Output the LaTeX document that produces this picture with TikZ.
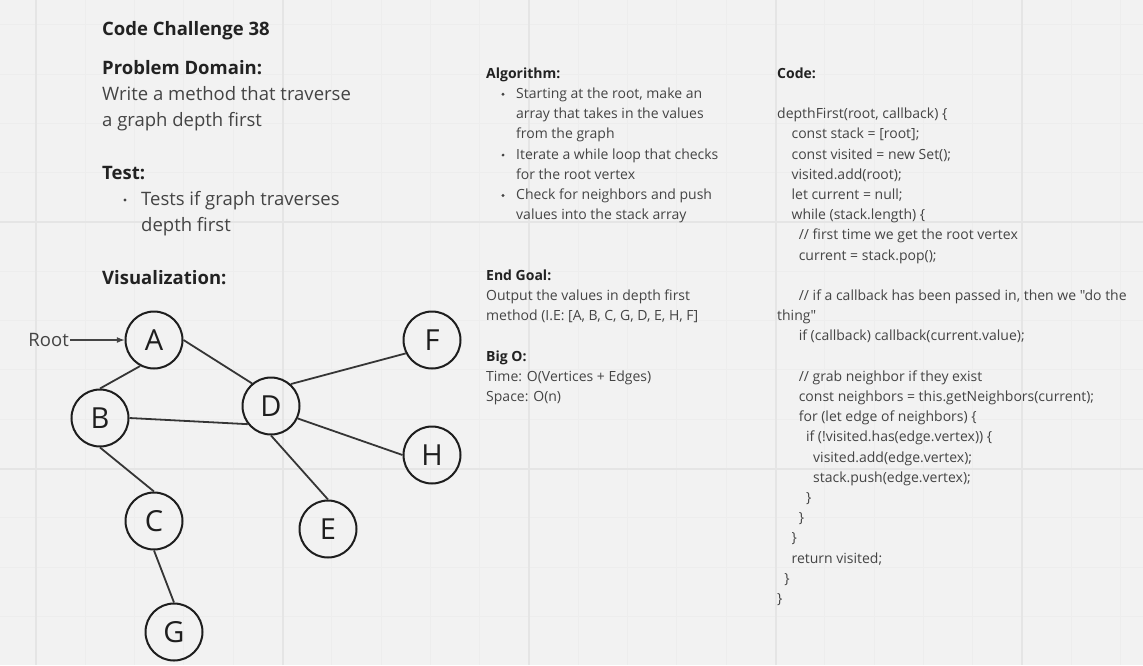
\documentclass[tikz,border=0pt]{standalone}
\usepackage{fontspec}
\setmainfont{Open Sans}[Ligatures=TeXOff]
\definecolor{bgc}{HTML}{F2F2F2}
\definecolor{gridminor}{HTML}{EDEDED}
\definecolor{gridmajor}{HTML}{E5E5E5}
\definecolor{headc}{HTML}{222222}
\definecolor{textc}{HTML}{444444}
\definecolor{linec}{HTML}{1E1E1E}
\begin{document}
\begin{tikzpicture}[x=1pt,y=-1pt,>=latex,
    vertex/.style={draw=linec,line width=2pt,circle,minimum size=57pt,inner sep=0pt,text=linec,font=\fontsize{29}{35}\selectfont},
    edge/.style={draw=linec!90,line width=1.8pt},
    head/.style={anchor=base west,inner sep=0pt,text=headc,font=\bfseries\fontsize{18.5}{22}\selectfont},
    big/.style={anchor=base west,inner sep=0pt,text=textc,font=\fontsize{18.5}{22}\selectfont},
    small/.style={anchor=base west,inner sep=0pt,text=textc,font=\fontsize{14}{17}\selectfont},
    smallhead/.style={anchor=base west,inner sep=0pt,text=headc,font=\bfseries\fontsize{14}{17}\selectfont},
    dot/.style={circle,fill=textc,inner sep=0pt,minimum size=3.2pt}]
    % Sfondo e griglia
    \fill[bgc] (0,0) rectangle (1143,665);
    \useasboundingbox (0,0) rectangle (1143,665);
    \begin{scope}[shift={(36,222)}]
        \draw[gridminor,line width=1pt,step=49.3pt] (-36,-222) grid (1107,443);
        \draw[gridmajor,line width=2pt,step=246.5pt] (-36,-222) grid (1107,443);
    \end{scope}
    % Colonna sinistra
    \node[head] (title) at (102,35) {Code Challenge 38};
    \node[head] (domain) at (102,74) {Problem Domain:};
    \node[big] (dom1) at (102,100) {Write a method that traverse};
    \node[big] (dom2) at (102,126.7) {a graph depth first};
    \node[head] (test) at (102,179) {Test:};
    \node[dot] (tdot) at (125,200) {};
    \node[big] (test1) at (141,205) {Tests if graph traverses};
    \node[big] (test2) at (141,231.7) {depth first};
    \node[head] (vis) at (102,284) {Visualization:};
    % Grafo
    \node[vertex] (A) at (154,340) {A};
    \node[vertex] (B) at (100,418) {B};
    \node[vertex] (C) at (154,521) {C};
    \node[vertex] (G) at (174,632) {G};
    \node[vertex] (D) at (271,406) {D};
    \node[vertex] (E) at (328,529) {E};
    \node[vertex] (F) at (432,340) {F};
    \node[vertex] (H) at (432,455) {H};
    \draw[edge] (A.242) -- (B.north);
    \draw[edge] (A.east) -- (D.130);
    \draw[edge] (B.east) -- (D.218);
    \draw[edge] (B.south) -- (C.north);
    \draw[edge] (C.south) -- (G.north);
    \draw[edge] (D.48) -- (F.207);
    \draw[edge] (D.-25) -- (H.west);
    \draw[edge] (D.south) -- (E.north);
    \node[big,anchor=east] (root) at (69,340) {Root};
    \draw[->,draw=textc,line width=1.6pt,shorten <=1pt] (root) -- (A);
    % Colonna centrale
    \node[smallhead] (alg) at (486,78.3) {Algorithm:};
    \node[dot] (adot1) at (503,94.3) {};
    \node[small] (alg1) at (516,98.5) {Starting at the root, make an};
    \node[small] (alg2) at (516,118.7) {array that takes in the values};
    \node[small] (alg3) at (516,138.9) {from the graph};
    \node[dot] (adot2) at (503,155.1) {};
    \node[small] (alg4) at (516,159.1) {Iterate a while loop that checks};
    \node[small] (alg5) at (516,179.3) {for the root vertex};
    \node[dot] (adot3) at (503,195.5) {};
    \node[small] (alg6) at (516,199.5) {Check for neighbors and push};
    \node[small] (alg7) at (516,219.7) {values into the stack array};
    \node[smallhead] (goal) at (486,280.3) {End Goal:};
    \node[small] (goal1) at (486,300.5) {Output the values in depth first};
    \node[small] (goal2) at (486,320.7) {method (I.E: [A, B, C, G, D, E, H, F]};
    \node[smallhead] (bigo) at (486,361.1) {Big O:};
    \node[small] (bigo1) at (486,381.3) {Time: O(Vertices + Edges)};
    \node[small] (bigo2) at (486,401.5) {Space: O(n)};
    % Codice
    \node[smallhead] (code) at (777,78.3) {Code:};
    \node[small] (c1) at (777,118.7) {depthFirst(root, callback) \{};
    \node[small] (c2) at (791.4,138.9) {const stack = [root];};
    \node[small] (c3) at (791.4,159.1) {const visited = new Set();};
    \node[small] (c4) at (791.4,179.3) {visited.add(root);};
    \node[small] (c5) at (791.4,199.5) {let current = null;};
    \node[small] (c6) at (791.4,219.7) {while (stack.length) \{};
    \node[small] (c7) at (798.6,239.9) {// first time we get the root vertex};
    \node[small] (c8) at (798.6,260.1) {current = stack.pop();};
    \node[small] (c9) at (798.6,300.5) {// if a callback has been passed in, then we "do the};
    \node[small] (c10) at (777,320.7) {thing"};
    \node[small] (c11) at (798.6,340.9) {if (callback) callback(current.value);};
    \node[small] (c12) at (798.6,381.3) {// grab neighbor if they exist};
    \node[small] (c13) at (798.6,401.5) {const neighbors = this.getNeighbors(current);};
    \node[small] (c14) at (798.6,421.7) {for (let edge of neighbors) \{};
    \node[small] (c15) at (805.8,441.9) {if (!visited.has(edge.vertex)) \{};
    \node[small] (c16) at (813,462.1) {visited.add(edge.vertex);};
    \node[small] (c17) at (813,482.3) {stack.push(edge.vertex);};
    \node[small] (c18) at (805.8,502.5) {\}};
    \node[small] (c19) at (798.6,522.7) {\}};
    \node[small] (c20) at (791.4,542.9) {\}};
    \node[small] (c21) at (791.4,563.1) {return visited;};
    \node[small] (c22) at (784.2,583.3) {\}};
    \node[small] (c23) at (777,603.5) {\}};
\end{tikzpicture}
\end{document}
